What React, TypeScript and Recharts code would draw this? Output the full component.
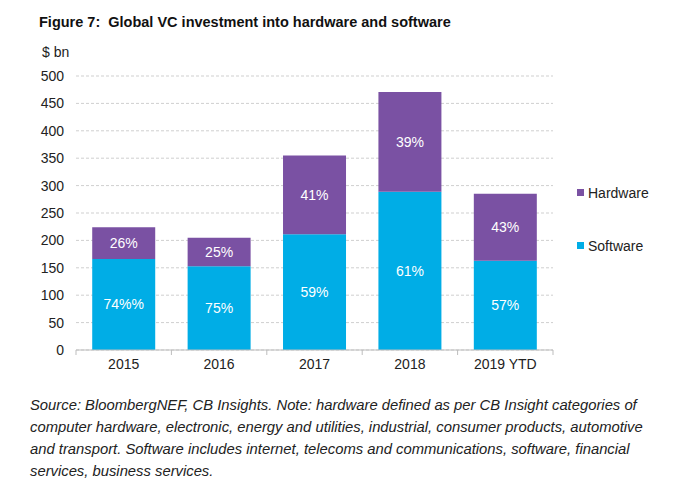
import { BarChart, Bar, XAxis, YAxis, CartesianGrid, LabelList } from "recharts";

const years = ["2015", "2016", "2017", "2018", "2019 YTD"];
const software = [166, 153, 211, 289, 163];
const hardware = [58, 52, 144, 182, 122];
const softwareLabels = ["74%%", "75%", "59%", "61%", "57%"];
const hardwareLabels = ["26%", "25%", "41%", "39%", "43%"];
const yTicks = [0, 50, 100, 150, 200, 250, 300, 350, 400, 450, 500];

const HW_COLOR = "#7a51a3";
const SW_COLOR = "#00ade6";
const FONT = "'Liberation Sans', Arial, sans-serif";

const noteLines = [
  "Source: BloombergNEF, CB Insights. Note: hardware defined as per CB Insight categories of",
  "computer hardware, electronic, energy and utilities, industrial, consumer products, automotive",
  "and transport. Software includes internet, telecoms and communications, software, financial",
  "services, business services.",
];

const data = years.map((year, i) => ({
  year,
  software: software[i],
  hardware: hardware[i],
  swLabel: softwareLabels[i],
  hwLabel: hardwareLabels[i],
}));

const CHART_W = 680;
const MARGIN = { top: 76, right: 127, left: 0, bottom: 0 };
const Y_AXIS_W = 76;
const band = (CHART_W - MARGIN.right - Y_AXIS_W) / years.length;

/* category label plus the small separator tick at the left edge of each band */
function YearTick(props: any) {
  const { x, y, payload, index } = props;
  const axisY = y - 9;
  return (
    <g>
      <line x1={x - band / 2} y1={axisY} x2={x - band / 2} y2={axisY + 5} stroke="#bdbdbd" />
      {index === years.length - 1 && (
        <line x1={x + band / 2} y1={axisY} x2={x + band / 2} y2={axisY + 5} stroke="#bdbdbd" />
      )}
      <text x={x} y={y} dy="0.71em" textAnchor="middle" fill="#222" fontSize={14} fontFamily={FONT}>
        {payload.value}
      </text>
    </g>
  );
}

const legendItems = [
  { name: "Hardware", color: HW_COLOR },
  { name: "Software", color: SW_COLOR },
];

export default function App() {
  return (
    <div style={{ position: "relative", width: 680, height: 488, margin: -8, background: "#fff", fontFamily: FONT }}>
      <div style={{ position: "absolute", left: 39, top: 14, fontSize: 14.5, fontWeight: "bold", color: "#111", whiteSpace: "nowrap" }}>
        Figure 7:&nbsp; Global VC investment into hardware and software
      </div>
      <div style={{ position: "absolute", left: 42, top: 44, fontSize: 14, color: "#222" }}>$ bn</div>

      <div style={{ position: "absolute", left: 0, top: 0 }}>
        <BarChart width={CHART_W} height={380} data={data} margin={MARGIN} barCategoryGap="17%">
          <CartesianGrid vertical={false} stroke="#cfcfcf" strokeDasharray="3 2" />
          <XAxis
            dataKey="year"
            height={30}
            tickLine={false}
            tickSize={0}
            tickMargin={9}
            stroke="#bdbdbd"
            tick={<YearTick />}
            interval={0}
          />
          <YAxis
            width={Y_AXIS_W}
            domain={[0, 500]}
            ticks={yTicks}
            axisLine={false}
            tickLine={false}
            tickSize={0}
            tickMargin={12}
            tick={{ fill: "#222", fontSize: 14, fontFamily: FONT }}
          />
          <Bar dataKey="software" name="Software" stackId="a" fill={SW_COLOR} isAnimationActive={false}>
            <LabelList dataKey="swLabel" position="center" fill="#fff" fontSize={14} fontFamily={FONT} />
          </Bar>
          <Bar dataKey="hardware" name="Hardware" stackId="a" fill={HW_COLOR} isAnimationActive={false}>
            <LabelList dataKey="hwLabel" position="center" fill="#fff" fontSize={14} fontFamily={FONT} />
          </Bar>
        </BarChart>
      </div>

      {/* legend: Hardware above Software, widely spaced */}
      <div style={{ position: "absolute", left: 577, top: 166, fontSize: 14, color: "#222" }}>
        {legendItems.map((it) => (
          <div key={it.name} style={{ display: "flex", alignItems: "center", height: 53 }}>
            <span style={{ width: 7, height: 7, background: it.color, marginRight: 4 }} />
            {it.name}
          </div>
        ))}
      </div>

      <div style={{ position: "absolute", left: 30, top: 394, fontSize: 14.8, fontStyle: "italic", lineHeight: "22px", color: "#222" }}>
        {noteLines.map((l) => (
          <div key={l} style={{ whiteSpace: "nowrap" }}>{l}</div>
        ))}
      </div>
    </div>
  );
}
